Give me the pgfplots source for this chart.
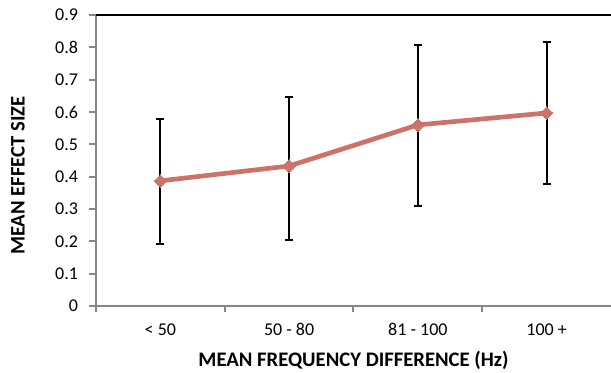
\documentclass[border=0pt]{standalone}
\usepackage{pgfplots}
\pgfplotsset{compat=1.18}
\usepackage{fontspec}
\setmainfont{Carlito}
\definecolor{linecol}{RGB}{205,114,104}
\definecolor{axgray}{RGB}{134,134,134}
\begin{document}
\begin{tikzpicture}[x=1pt,y=1pt]
\useasboundingbox (-72,-50.25) rectangle (386.25,229.5);
\begin{axis}[
  at={(0,0)}, anchor=origin,
  scale only axis,
  width=386.25pt, height=218.25pt,
  xmin=0.5, xmax=4.5, ymin=0, ymax=0.9,
  axis x line=bottom, axis y line=left,
  axis line style={axgray, line width=1.5pt, -},
  xtick={1,2,3,4},
  xticklabels={{< 50},{50 - 80},{81 - 100},{100 +}},
  minor xtick={0.5,1.5,2.5,3.5},
  major x tick style={draw=none},
  minor x tick style={axgray, line width=1.5pt},
  minor tick length=4.5pt,
  ytick={0,0.1,...,0.9},
  yticklabels={0,0.1,0.2,0.3,0.4,0.5,0.6,0.7,0.8,0.9},
  y tick style={axgray, line width=1.5pt},
  major tick length=5.5pt,
  tick align=outside,
  tick label style={font=\fontsize{13.5}{15}\selectfont, black},
  yticklabel style={xshift=-4.5pt},
  xticklabel style={yshift=-4pt},
  /pgf/number format/assume math mode=true,
  xlabel={\textbf{MEAN FREQUENCY DIFFERENCE (Hz)}},
  ylabel={\textbf{MEAN EFFECT SIZE}},
  label style={font=\fontsize{15.5}{17}\selectfont},
  xlabel style={at={(axis description cs:0.5,-0.1856)}, anchor=center},
  ylabel style={at={(axis description cs:-0.1515,0.448)}, anchor=center, rotate=0},
  clip=false,
]
\addplot[draw=none, mark=none, forget plot,
  error bars/.cd, y dir=both, y explicit,
  error bar style={black, line width=1.5pt},
  error mark options={rotate=90, mark size=3pt, line width=1.5pt, black}]
  table[x=x, y=y, y error plus=ep, y error minus=em] {
x y ep em
1 0.387 0.191 0.195
2 0.433 0.213 0.229
3 0.560 0.247 0.251
4 0.597 0.220 0.220
};
\addplot[linecol, line width=3.5pt, mark=square*, mark size=3.3pt,
  mark options={rotate=45, line width=0pt, fill=linecol}]
  table[x=x, y=y] {
x y
1 0.387
2 0.433
3 0.560
4 0.597
};
\draw[black, line width=1.5pt] (rel axis cs:0,1) -- (rel axis cs:1,1);
\end{axis}
\end{tikzpicture}
\end{document}
